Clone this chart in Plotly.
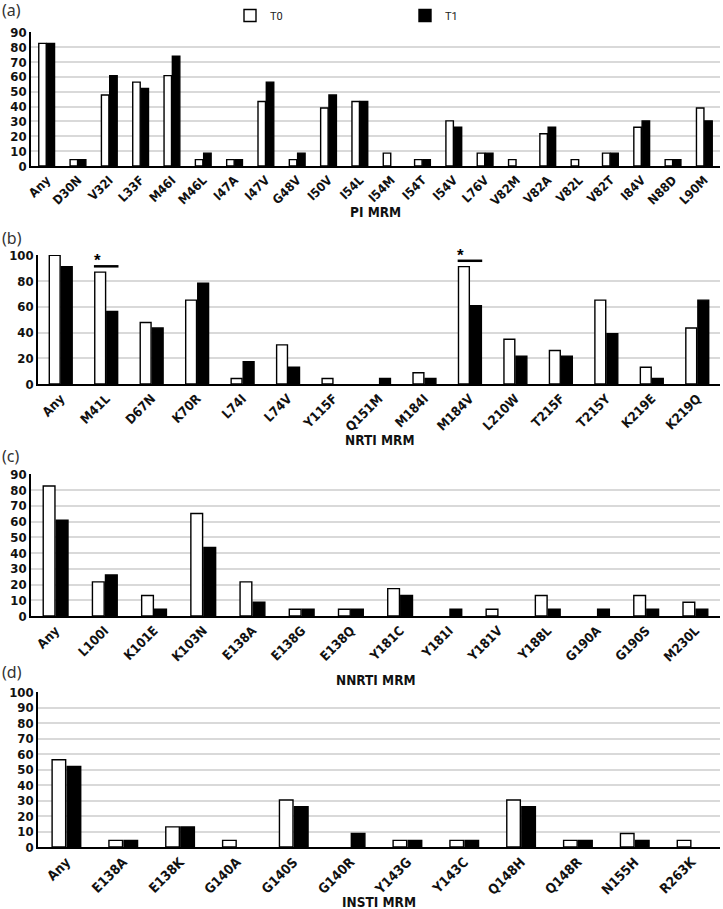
import plotly.graph_objects as go

# ---------------- data ----------------
pi_cats = ["Any", "D30N", "V32I", "L33F", "M46I", "M46L", "I47A", "I47V", "G48V", "I50V", "I54L",
           "I54M", "I54T", "I54V", "L76V", "V82M", "V82A", "V82L", "V82T", "I84V", "N88D", "L90M"]
pi_t0 = [82.6, 4.3, 47.8, 56.5, 60.9, 4.3, 4.3, 43.5, 4.3, 39.1, 43.5,
         8.7, 4.3, 30.4, 8.7, 4.3, 21.7, 4.3, 8.7, 26.1, 4.3, 39.1]
pi_t1 = [82.6, 4.3, 60.9, 52.2, 73.9, 8.7, 4.3, 56.5, 8.7, 47.8, 43.5,
         0, 4.3, 26.1, 8.7, 0, 26.1, 0, 8.7, 30.4, 4.3, 30.4]

nrti_cats = ["Any", "M41L", "D67N", "K70R", "L74I", "L74V", "Y115F", "Q151M", "M184I", "M184V",
             "L210W", "T215F", "T215Y", "K219E", "K219Q"]
nrti_t0 = [100, 87.0, 47.8, 65.2, 4.3, 30.4, 4.3, 0, 8.7, 91.3, 34.8, 26.1, 65.2, 13.0, 43.5]
nrti_t1 = [91.3, 56.5, 43.5, 78.3, 17.4, 13.0, 0, 4.3, 4.3, 60.9, 21.7, 21.7, 39.1, 4.3, 65.2]
nrti_signif = ["M41L", "M184V"]

nnrti_cats = ["Any", "L100I", "K101E", "K103N", "E138A", "E138G", "E138Q", "Y181C", "Y181I",
              "Y181V", "Y188L", "G190A", "G190S", "M230L"]
nnrti_t0 = [82.6, 21.7, 13.0, 65.2, 21.7, 4.3, 4.3, 17.4, 0, 4.3, 13.0, 0, 13.0, 8.7]
nnrti_t1 = [60.9, 26.1, 4.3, 43.5, 8.7, 4.3, 4.3, 13.0, 4.3, 0, 4.3, 4.3, 4.3, 4.3]

insti_cats = ["Any", "E138A", "E138K", "G140A", "G140S", "G140R", "Y143G", "Y143C", "Q148H",
              "Q148R", "N155H", "R263K"]
insti_t0 = [56.5, 4.3, 13.0, 4.3, 30.4, 0, 4.3, 4.3, 30.4, 4.3, 8.7, 4.3]
insti_t1 = [52.2, 4.3, 13.0, 0, 26.1, 8.7, 4.3, 4.3, 26.1, 4.3, 4.3, 0]

series_names = ["T0", "T1"]
panel_titles = ["PI MRM", "NRTI MRM", "NNRTI MRM", "INSTI MRM"]
panel_letters = ["(a)", "(b)", "(c)", "(d)"]

# ---------------- layout geometry (pixels) ----------------
W, H = 723, 909
NARROW = "Liberation Sans Narrow, Arial Narrow, DejaVu Sans Condensed, sans-serif"

panels = [
    dict(cats=pi_cats, t0=pi_t0, t1=pi_t1, top=32, bot=166, left=31, ymax=90, dtick=10,
         xfs=12.5, title_y=212, letter_y=10, signif=[]),
    dict(cats=nrti_cats, t0=nrti_t0, t1=nrti_t1, top=255, bot=384, left=38, ymax=100, dtick=20,
         xfs=13, title_y=440, letter_y=238, signif=nrti_signif),
    dict(cats=nnrti_cats, t0=nnrti_t0, t1=nnrti_t1, top=474, bot=616, left=31, ymax=90, dtick=10,
         xfs=13, title_y=680, letter_y=456, signif=[]),
    dict(cats=insti_cats, t0=insti_t0, t1=insti_t1, top=692, bot=847, left=38, ymax=100, dtick=10,
         xfs=13.5, title_y=902, letter_y=672, signif=[]),
]
RIGHT = 720


def py(px):
    return 1 - px / H


def pxx(px):
    return px / W


def outline(vals):
    # no outline on empty (zero) bars so they stay invisible
    return [0 if v == 0 else 1.4 for v in vals]


fig = go.Figure()
annotations = []
shapes = []

for i, p in enumerate(panels):
    sfx = "" if i == 0 else str(i + 1)
    xa, ya = "x" + sfx, "y" + sfx
    fig.add_trace(go.Bar(
        x=p["cats"], y=p["t0"], name=series_names[0], xaxis=xa, yaxis=ya,
        marker=dict(color="white", line=dict(color="black", width=outline(p["t0"]))),
        showlegend=(i == 0), legendgroup="T0"))
    fig.add_trace(go.Bar(
        x=p["cats"], y=p["t1"], name=series_names[1], xaxis=xa, yaxis=ya,
        marker=dict(color="black", line=dict(color="black", width=outline(p["t1"]))),
        showlegend=(i == 0), legendgroup="T1"))

    xdom = [pxx(p["left"]), pxx(RIGHT)]
    ydom = [py(p["bot"]), py(p["top"])]
    fig.update_layout(**{
        "xaxis" + sfx: dict(
            domain=xdom, anchor=ya, type="category", tickangle=-45,
            showline=True, linecolor="black", linewidth=2, ticks="", showgrid=False,
            tickfont=dict(family=NARROW, size=p["xfs"], color="#111", weight="bold"),
            fixedrange=True, automargin=False),
        "yaxis" + sfx: dict(
            domain=ydom, anchor=xa, range=[0, p["ymax"] * 1.003], dtick=p["dtick"],
            tick0=0, showline=True, linecolor="black", linewidth=1.5,
            showgrid=True, gridcolor="#d9d9d9", gridwidth=1.5, zeroline=False, ticks="",
            tickfont=dict(family=NARROW, size=13, color="#111", weight="bold"),
            fixedrange=True, automargin=False),
    })

    annotations.append(dict(
        text=panel_titles[i], x=pxx((p["left"] + RIGHT) / 2), y=py(p["title_y"]),
        xref="paper", yref="paper", showarrow=False, xanchor="center", yanchor="middle",
        font=dict(family=NARROW, size=13.5, color="#111", weight="bold")))
    annotations.append(dict(
        text=panel_letters[i], x=0.0, y=py(p["letter_y"]), xref="paper", yref="paper",
        showarrow=False, xanchor="left", yanchor="middle", xshift=0,
        font=dict(family="Noto Sans", size=16, color="#333")))

    for cat in p["signif"]:
        k = p["cats"].index(cat)
        top_val = max(p["t0"][k], p["t1"][k])
        yl = top_val + 4.5
        shapes.append(dict(type="line", xref=xa, yref=ya, x0=k - 0.27, x1=k + 0.27,
                           y0=yl, y1=yl, line=dict(color="black", width=2.5)))
        annotations.append(dict(text="*", xref=xa, yref=ya, x=k - 0.2, y=yl,
                                showarrow=False, yanchor="bottom", yshift=-6,
                                font=dict(family="Liberation Sans", size=17, color="black",
                                          weight="bold")))

fig.update_layout(
    width=W, height=H, margin=dict(l=0, r=0, t=0, b=0),
    paper_bgcolor="white", plot_bgcolor="white",
    barmode="group", bargap=0.47, bargroupgap=0.1,
    showlegend=True,
    legend=dict(orientation="h", x=pxx(250 - 20), y=py(1), xanchor="left", yanchor="top",
                entrywidth=130, entrywidthmode="pixels",
                font=dict(family="Roboto", size=11, color="#222"),
                bgcolor="rgba(0,0,0,0)", borderwidth=0, traceorder="normal"),
    annotations=annotations, shapes=shapes,
)

fig.write_html("out.html")
